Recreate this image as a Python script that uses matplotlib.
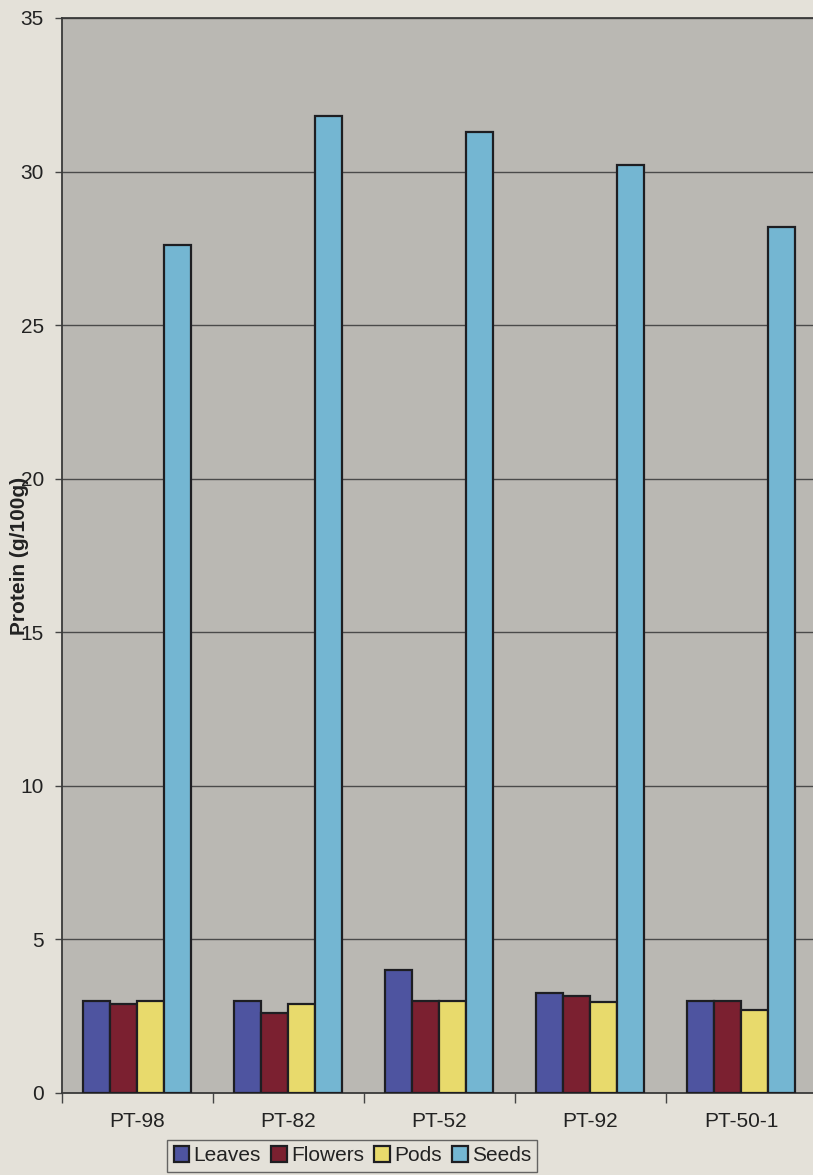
import matplotlib.pyplot as plt
import numpy as np

plt.rcParams['font.family'] = ['Liberation Sans', 'DejaVu Sans']

varieties = ['PT-98', 'PT-82', 'PT-52', 'PT-92', 'PT-50-1']
leaves = [3.0, 3.0, 4.0, 3.25, 3.0]
flowers = [2.9, 2.6, 3.0, 3.15, 3.0]
pods = [3.0, 2.9, 3.0, 2.95, 2.7]
seeds = [27.6, 31.8, 31.3, 30.2, 28.2]

parts = ['Leaves', 'Flowers', 'Pods', 'Seeds']
colors = ['#4e54a0', '#7b2030', '#e8da6c', '#74b6d2']

fig = plt.figure(figsize=(8.13, 11.75), dpi=100)
fig.patch.set_facecolor('#e4e1d9')
ax = fig.add_axes([0.0763, 0.0698, 0.9287, 0.9149])
ax.set_facecolor('#bab8b3')

x = np.arange(len(varieties))
width = 0.179
start = -0.361
for k, (vals, name, c) in enumerate(zip([leaves, flowers, pods, seeds], parts, colors)):
    ax.bar(x + start + k * width, vals, width, align='edge', color=c,
           edgecolor='#1e1e22', linewidth=1.6, label=name, zorder=3)

ax.set_ylim(0, 35)
ax.set_yticks(np.arange(0, 36, 5))
ax.yaxis.grid(True, color='#4a4a4a', linewidth=1.0, zorder=0)
ax.set_xlim(-0.5, len(varieties) - 0.5)
ax.set_xticks(x)
ax.set_xticklabels(varieties)
ax.set_xticks(np.arange(-0.5, len(varieties), 1.0), minor=True)
ax.tick_params(axis='x', which='major', length=0, pad=14, labelsize=15, colors='#222222')
ax.tick_params(axis='x', which='minor', length=7, width=1.0, color='#444444')
ax.tick_params(axis='y', length=5, width=1.0, color='#444444', labelsize=15,
               labelcolor='#222222', pad=8)

ax.spines['right'].set_visible(False)
for side in ['left', 'bottom', 'top']:
    ax.spines[side].set_color('#3a3a3a')
    ax.spines[side].set_linewidth(1.3)

# axis title sits in the narrow left margin, running over the tick numbers
fig.text(0.0235, 0.527, 'Protein (g/100g)', rotation=90, ha='center', va='center',
         fontsize=15, fontweight='bold', color='#222222')

leg = fig.legend(loc='lower left', bbox_to_anchor=(0.193, -0.006), ncol=4,
                 fontsize=15, frameon=True, fancybox=False, handlelength=0.75,
                 handleheight=0.75, handletextpad=0.2, columnspacing=0.5,
                 borderpad=0.3, labelspacing=0.2)
leg.get_frame().set_edgecolor('#444444')
leg.get_frame().set_facecolor('#e4e1d9')
leg.get_frame().set_linewidth(1.0)
for t in leg.get_texts():
    t.set_color('#222222')

fig.savefig('out.png', dpi=100, facecolor=fig.get_facecolor())
